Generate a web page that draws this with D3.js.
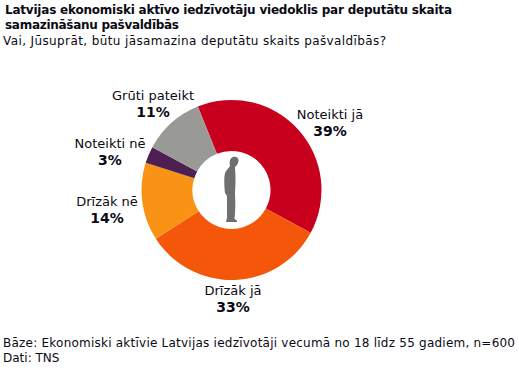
<!DOCTYPE html>
<html>
<head>
<meta charset="utf-8">
<script src="https://cdnjs.cloudflare.com/ajax/libs/d3/7.8.5/d3.min.js"></script>
<style>
  html, body { margin: 0; background: #fff; }
  text { font-family: "DejaVu Sans", sans-serif; font-size: 12px; fill: #0a0a14; }
  .bold { font-weight: bold; }
  .slice { font-size: 13px; }
  .pct { font-size: 14px; }
</style>
</head>
<body>
<div id="chart"></div>
<script>
// pie data
const categories = ["Noteikti jā", "Drīzāk jā", "Drīzāk nē", "Noteikti nē", "Grūti pateikt"];
const values = [39, 33, 14, 3, 11];
const colors = ["#c8001e", "#f4560a", "#f99316", "#4e1f52", "#999a96"];
// label anchors, one per slice
const labelX = [330, 233, 107, 110, 153];
const labelY = [119, 295, 206, 148, 100];

const titleLines = ["Latvijas ekonomiski aktīvo iedzīvotāju viedoklis par deputātu skaita", "samazināšanu pašvaldībās"];
const subtitle = "Vai, Jūsuprāt, būtu jāsamazina deputātu skaits pašvaldībās?";
const footLines = ["Bāze: Ekonomiski aktīvie Latvijas iedzīvotāji vecumā no 18 līdz 55 gadiem, n=600", "Dati: TNS"];

const width = 519, height = 368;
const cx = 231.5, cy = 190, outer = 90, inner = 39;

const svg = d3.select("#chart").append("svg")
  .attr("width", width)
  .attr("height", height)
  .style("display", "block");

svg.append("text").attr("class", "bold").attr("x", 5).attr("y", 14).attr("textLength", 447).text(titleLines[0]);
svg.append("text").attr("class", "bold").attr("x", 5).attr("y", 29).attr("textLength", 174).text(titleLines[1]);
svg.append("text").attr("x", 3).attr("y", 45).attr("textLength", 383).text(subtitle);

const pie = d3.pie().sort(null)
  .startAngle(-22 * Math.PI / 180)
  .endAngle(338 * Math.PI / 180);
const arc = d3.arc().innerRadius(inner).outerRadius(outer);

const g = svg.append("g").attr("transform", "translate(" + cx + "," + cy + ")");
g.selectAll("path")
  .data(pie(values))
  .enter()
  .append("path")
  .attr("d", arc)
  .style("fill", (d, i) => colors[i]);

// person in the hole
svg.append("g")
  .attr("transform", "translate(215,150)")
  .append("path")
  .attr("d", "M18 7 C21 6 24 8 23.5 11 C23 14 21.5 16 20 17 C20 20 20.5 24 20.5 30 C20.5 36 20 40 20 44 C20.5 52 20.5 60 19.5 69 L22 70.5 L22 72 L11 72 L12 68 C12 60 12 52 12 46 L10 43 C9 35 9 27 10 23 C11 20 14 18 15 16 C14 12 15 8 18 7 Z")
  .style("fill", "#6d6f71");

// slice labels
categories.forEach((c, i) => {
  svg.append("text").attr("class", "slice").attr("x", labelX[i]).attr("y", labelY[i]).attr("text-anchor", "middle").text(c);
  svg.append("text").attr("class", "pct bold").attr("x", labelX[i]).attr("y", labelY[i] + 17).attr("text-anchor", "middle").text(values[i] + "%");
});

svg.append("text").attr("x", 3).attr("y", 347).attr("textLength", 512).text(footLines[0]);
svg.append("text").attr("x", 3).attr("y", 362).text(footLines[1]);
</script>
</body>
</html>
